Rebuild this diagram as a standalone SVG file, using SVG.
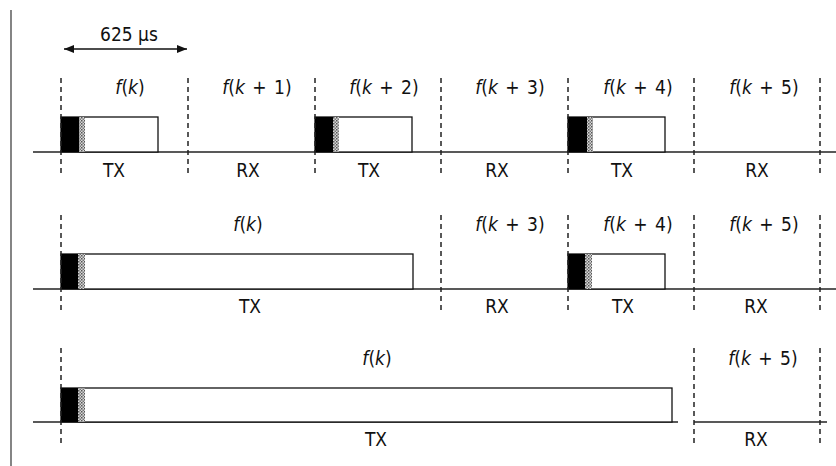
<svg xmlns="http://www.w3.org/2000/svg" width="836" height="466" viewBox="0 0 836 466">
<defs>
<style>
.t{font-family:"DejaVu Sans Condensed","DejaVu Sans","Liberation Sans",sans-serif;font-stretch:condensed;font-size:19px;fill:#111;text-anchor:middle}
.f{word-spacing:2px}
.it{font-style:italic}
.dash{stroke:#222;stroke-width:1.5;stroke-dasharray:5 4;fill:none}
.base{stroke:#222;stroke-width:1.3;fill:none}
.pkt{fill:#fff;stroke:#111;stroke-width:1.3}
.hdr{fill:#000}
.hat{fill:url(#stip)}
</style>
<pattern id="stip" width="3" height="3" patternUnits="userSpaceOnUse">
<rect width="3" height="3" fill="#d8d8d8"/>
<rect width="1.5" height="1.5" fill="#555"/>
<rect x="1.5" y="1.5" width="1.5" height="1.5" fill="#777"/>
</pattern>
<marker id="ah" viewBox="0 0 10 8" refX="10" refY="4" markerWidth="10" markerHeight="8" markerUnits="userSpaceOnUse" orient="auto-start-reverse">
<path d="M0,0 L10,4 L0,8 Z" fill="#111"/>
</marker>
</defs>
<rect width="836" height="466" fill="#fff"/>
<line x1="11" y1="10" x2="11" y2="466" stroke="#333" stroke-width="1.2"/>

<g id="scale">
<line x1="64" y1="49" x2="187" y2="49" stroke="#111" stroke-width="1.3" marker-start="url(#ah)" marker-end="url(#ah)"/>
<text class="t" x="129" y="41">625 µs</text>
</g>

<g id="row1">
<line class="base" x1="33" y1="152" x2="836" y2="152"/>
<g id="r1-pkt1"><rect class="pkt" x="61" y="117" width="97" height="35"/><rect class="hdr" x="61" y="117" width="18" height="35"/><rect class="hat" x="79" y="117" width="6" height="35"/></g>
<g id="r1-pkt2"><rect class="pkt" x="315" y="117" width="97" height="35"/><rect class="hdr" x="315" y="117" width="18" height="35"/><rect class="hat" x="333" y="117" width="6" height="35"/></g>
<g id="r1-pkt3"><rect class="pkt" x="568" y="117" width="97" height="35"/><rect class="hdr" x="568" y="117" width="19" height="35"/><rect class="hat" x="587" y="117" width="6" height="35"/></g>
<text class="t f" x="130" y="94"><tspan class="it">f</tspan>(<tspan class="it">k</tspan>)</text>
<text class="t f" x="257" y="94"><tspan class="it">f</tspan>(<tspan class="it">k</tspan> + 1)</text>
<text class="t f" x="384" y="94"><tspan class="it">f</tspan>(<tspan class="it">k</tspan> + 2)</text>
<text class="t f" x="510" y="94"><tspan class="it">f</tspan>(<tspan class="it">k</tspan> + 3)</text>
<text class="t f" x="638" y="94"><tspan class="it">f</tspan>(<tspan class="it">k</tspan> + 4)</text>
<text class="t f" x="764" y="94"><tspan class="it">f</tspan>(<tspan class="it">k</tspan> + 5)</text>
<text class="t" x="114" y="177">TX</text>
<text class="t" x="248" y="177">RX</text>
<text class="t" x="369" y="177">TX</text>
<text class="t" x="497" y="177">RX</text>
<text class="t" x="622" y="177">TX</text>
<text class="t" x="757" y="177">RX</text>
</g>

<g id="row2">
<line class="base" x1="33" y1="289" x2="836" y2="289"/>
<g id="r2-pkt1"><rect class="pkt" x="61" y="254" width="352" height="35"/><rect class="hdr" x="61" y="254" width="17" height="35"/><rect class="hat" x="78" y="254" width="7" height="35"/></g>
<g id="r2-pkt2"><rect class="pkt" x="568" y="254" width="97" height="35"/><rect class="hdr" x="568" y="254" width="17" height="35"/><rect class="hat" x="585" y="254" width="7" height="35"/></g>
<text class="t f" x="248" y="231"><tspan class="it">f</tspan>(<tspan class="it">k</tspan>)</text>
<text class="t f" x="510" y="231"><tspan class="it">f</tspan>(<tspan class="it">k</tspan> + 3)</text>
<text class="t f" x="638" y="231"><tspan class="it">f</tspan>(<tspan class="it">k</tspan> + 4)</text>
<text class="t f" x="764" y="231"><tspan class="it">f</tspan>(<tspan class="it">k</tspan> + 5)</text>
<text class="t" x="250" y="313">TX</text>
<text class="t" x="497" y="313">RX</text>
<text class="t" x="623" y="313">TX</text>
<text class="t" x="756" y="313">RX</text>
</g>

<g id="row3">
<line class="base" x1="33" y1="422" x2="678" y2="422"/>
<line class="base" x1="694" y1="422" x2="827" y2="422"/>
<g id="r3-pkt1"><rect class="pkt" x="61" y="388" width="611" height="34"/><rect class="hdr" x="61" y="388" width="17" height="34"/><rect class="hat" x="78" y="388" width="7" height="34"/></g>
<text class="t f" x="377" y="365"><tspan class="it">f</tspan>(<tspan class="it">k</tspan>)</text>
<text class="t f" x="763" y="365"><tspan class="it">f</tspan>(<tspan class="it">k</tspan> + 5)</text>
<text class="t" x="376" y="446">TX</text>
<text class="t" x="756" y="446">RX</text>
</g>

<g id="connectors">
<line class="dash" x1="61" y1="78" x2="61" y2="176"/>
<line class="dash" x1="188" y1="78" x2="188" y2="176"/>
<line class="dash" x1="315" y1="78" x2="315" y2="176"/>
<line class="dash" x1="441" y1="78" x2="441" y2="176"/>
<line class="dash" x1="568" y1="78" x2="568" y2="176"/>
<line class="dash" x1="694" y1="78" x2="694" y2="176"/>
<line class="dash" x1="820" y1="78" x2="820" y2="176"/>
<line class="dash" x1="61" y1="215" x2="61" y2="312"/>
<line class="dash" x1="441" y1="215" x2="441" y2="312"/>
<line class="dash" x1="568" y1="215" x2="568" y2="312"/>
<line class="dash" x1="694" y1="215" x2="694" y2="312"/>
<line class="dash" x1="820" y1="215" x2="820" y2="312"/>
<line class="dash" x1="61" y1="348" x2="61" y2="445"/>
<line class="dash" x1="694" y1="348" x2="694" y2="445"/>
<line class="dash" x1="820" y1="348" x2="820" y2="445"/>
</g>
</svg>
